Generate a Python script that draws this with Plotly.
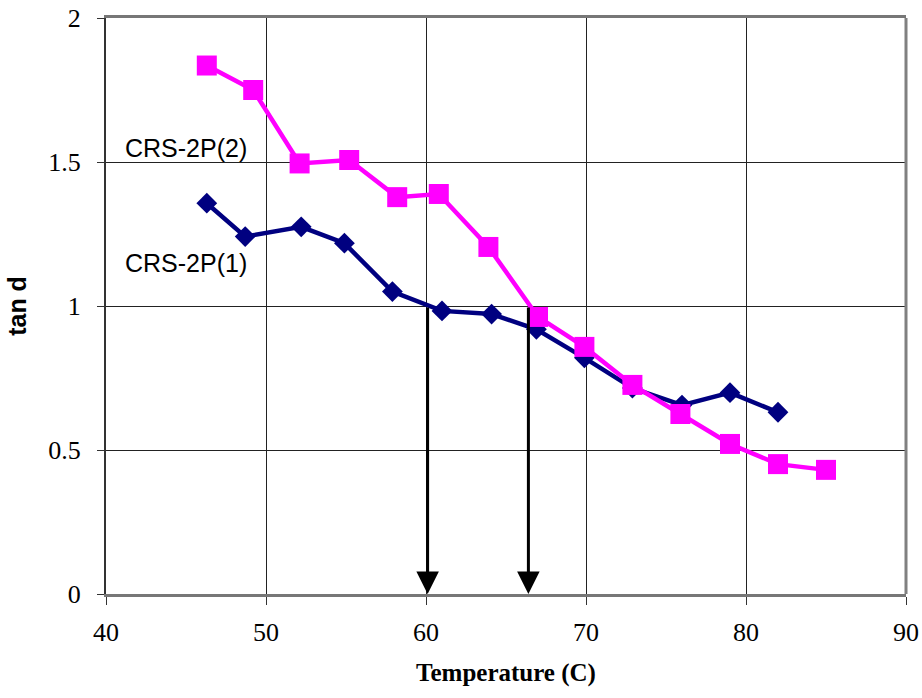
import plotly.graph_objects as go

# Series 1: CRS-2P(1)
temp_1 = [46.3, 48.7, 52.2, 54.9, 57.9, 61.0, 64.1, 66.9, 69.9, 72.9, 76.0, 79.0, 82.0]
tand_1 = [1.357, 1.241, 1.275, 1.218, 1.050, 0.983, 0.972, 0.919, 0.820, 0.715, 0.656, 0.699, 0.631]

# Series 2: CRS-2P(2)
temp_2 = [46.3, 49.2, 52.1, 55.2, 58.2, 60.8, 63.9, 67.0, 69.9, 72.9, 75.9, 79.0, 82.0, 85.0]
tand_2 = [1.835, 1.750, 1.495, 1.507, 1.378, 1.389, 1.205, 0.962, 0.858, 0.726, 0.625, 0.521, 0.451, 0.431]

series_names = ["CRS-2P(1)", "CRS-2P(2)"]
label_x = [45.0, 45.0]
label_y = [1.15, 1.55]

# Arrows marking the transition temperatures
arrow_x = [60.1, 66.4]
arrow_top = [1.0, 1.0]

x_ticks = [40, 50, 60, 70, 80, 90]
y_ticks = [0, 0.5, 1, 1.5, 2]
y_ticktext = ["0", "0.5", "1", "1.5", "2"]

SERIF = "Liberation Serif"
SANS = "Liberation Sans"

fig = go.Figure()

fig.add_trace(go.Scatter(
    x=temp_1, y=tand_1, mode="lines+markers", name=series_names[0],
    line=dict(color="#000080", width=4.5),
    marker=dict(symbol="diamond", size=16, color="#000080"),
))
fig.add_trace(go.Scatter(
    x=temp_2, y=tand_2, mode="lines+markers", name=series_names[1],
    line=dict(color="#FF00FF", width=4.5),
    marker=dict(symbol="square", size=20, color="#FF00FF"),
))

for xa, yt in zip(arrow_x, arrow_top):
    fig.add_annotation(
        x=xa, y=0, ax=xa, ay=yt, xref="x", yref="y", axref="x", ayref="y",
        text="", showarrow=True, arrowhead=2, arrowsize=1.5, arrowwidth=3,
        arrowcolor="black", standoff=0,
    )

for name, lx, ly in zip(series_names, label_x, label_y):
    fig.add_annotation(
        x=lx, y=ly, xref="x", yref="y", text=name, showarrow=False,
        font=dict(family=SANS, size=25, color="black"),
    )

# right border of plot area (gray)
fig.add_shape(type="line", xref="paper", yref="paper", x0=1, x1=1, y0=0, y1=1,
              line=dict(color="#808080", width=3))

fig.update_layout(
    width=922, height=698,
    margin=dict(l=106, r=16, t=18, b=104, autoexpand=False),
    paper_bgcolor="white", plot_bgcolor="white",
    showlegend=False,
    font=dict(family=SERIF, size=26, color="black"),
    xaxis=dict(
        range=[40, 90], tickvals=x_ticks, ticktext=[str(v) for v in x_ticks],
        showgrid=True, gridcolor="#222222", gridwidth=1,
        showline=True, linecolor="#777777", linewidth=3, mirror=True,
        ticks="outside", ticklen=8, tickcolor="#333333", tickwidth=1,
        ticklabelstandoff=5,
        tickfont=dict(family=SERIF, size=26, color="black"),
        zeroline=False, automargin=False,
        title=dict(text="<b>Temperature (C)</b>", standoff=18,
                   font=dict(family=SERIF, size=25, color="black")),
    ),
    yaxis=dict(
        range=[0, 2], tickvals=y_ticks, ticktext=y_ticktext,
        showgrid=True, gridcolor="#222222", gridwidth=1,
        showline=True, linecolor="#333333", linewidth=2,
        ticks="outside", ticklen=7, tickcolor="#333333", tickwidth=1,
        ticklabelstandoff=11,
        tickfont=dict(family=SERIF, size=26, color="black"),
        zeroline=False, automargin=False,
        title=dict(text="<b>tan d</b>", standoff=15,
                   font=dict(family=SANS, size=25, color="black")),
    ),
)

fig.write_html(
    "out.html",
    config={"displayModeBar": False},
    post_script="document.body.style.margin='0';document.body.style.overflow='hidden';",
)
